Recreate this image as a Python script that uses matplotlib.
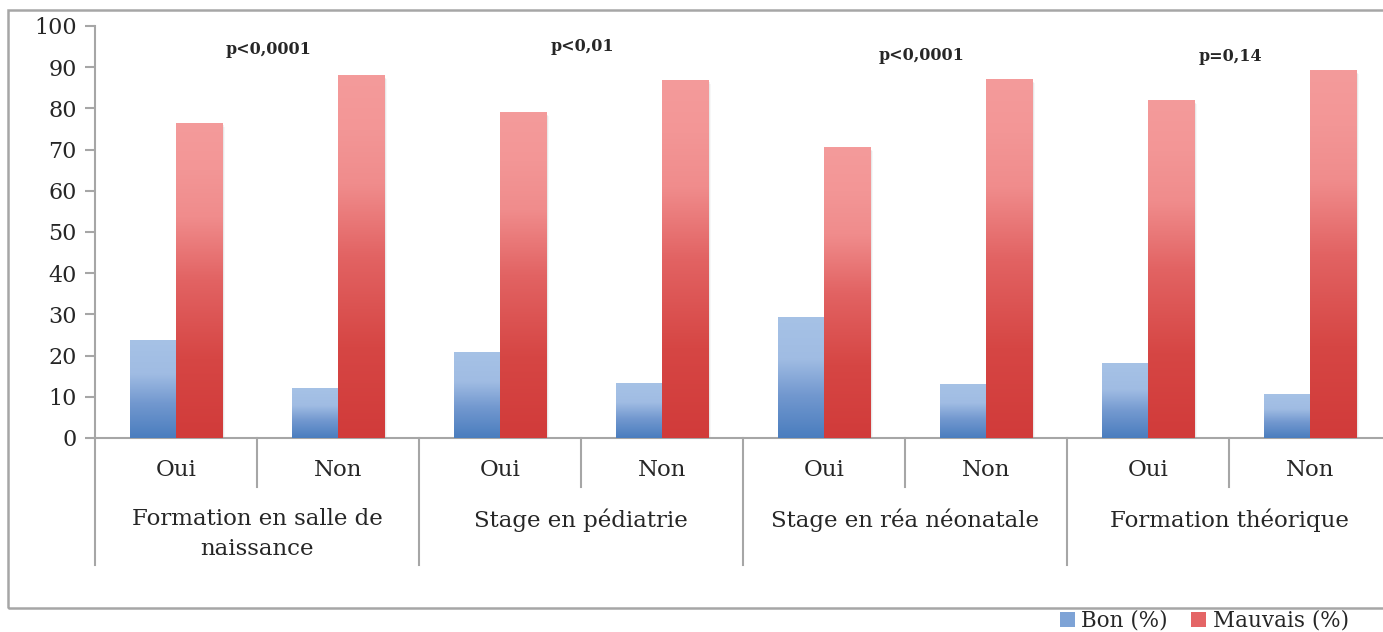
import matplotlib
matplotlib.use("Agg")
import matplotlib.pyplot as plt
import numpy as np
from matplotlib.colors import LinearSegmentedColormap
from matplotlib.patches import Rectangle, Patch
from matplotlib.lines import Line2D
import matplotlib.transforms as mtransforms

# ---- data ----
groups = ["Formation en salle de\nnaissance", "Stage en pédiatrie",
          "Stage en réa néonatale", "Formation théorique"]
sub_labels = ["Oui", "Non"]
bon = [23.8, 12.1, 20.9, 13.3, 29.4, 13.1, 18.2, 10.7]
mauvais = [76.5, 88.1, 79.1, 86.9, 70.6, 87.1, 82.0, 89.3]
p_values = ["p<0,0001", "p<0,01", "p<0,0001", "p=0,14"]
p_offsets = [0.07, 0.01, 0.10, 0.01]
p_heights = [94.3, 95.0, 92.8, 92.5]
series_names = ["Bon (%)", "Mauvais (%)"]

FONT = "DejaVu Serif"
TXT = "#262626"
AX_C = "#a6a6a6"

W, H = 1383, 632
fig = plt.figure(figsize=(W / 100, H / 100), dpi=100)

def fx(px):
    return px / W

def fy(py):
    return 1 - py / H

ax = fig.add_axes([fx(95), fy(438), fx(1391) - fx(95), fy(26) - fy(438)])
ax.set_xlim(-0.5, 7.5)
ax.set_ylim(0, 100)

blue_cmap = LinearSegmentedColormap.from_list(
    "b", [(0, "#4a7dbe"), (0.35, "#7298cf"), (0.65, "#a0bce3"), (1, "#a6c2e6")])
red_cmap = LinearSegmentedColormap.from_list(
    "r", [(0, "#d13b3a"), (0.25, "#d64644"), (0.5, "#e26363"), (0.7, "#f08c8c"),
          (0.85, "#f39696"), (1, "#f49b9b")])

x = np.arange(len(bon))
w = 0.287
grad = np.linspace(0, 1, 256).reshape(-1, 1)

def grad_bars(xs, vals, cmap):
    bars = ax.bar(xs, vals, width=w, align="edge", facecolor="none", edgecolor="none", zorder=3)
    for b in bars:
        x0, y0 = b.get_x(), b.get_y()
        bw, bh = b.get_width(), b.get_height()
        # soft shadow
        for k, a in enumerate([0.10, 0.06, 0.03]):
            sh = Rectangle((x0 + 0.006 * (k + 1), y0), bw, bh - 0.3 * (k + 1),
                           facecolor="#000000", alpha=a, edgecolor="none", zorder=2)
            ax.add_patch(sh)
        im = ax.imshow(grad, cmap=cmap, origin="lower", aspect="auto",
                       extent=[x0, x0 + bw, y0, y0 + bh], zorder=3)
        im.set_clip_path(b)
    return bars

grad_bars(x - w, bon, blue_cmap)
grad_bars(x, mauvais, red_cmap)
ax.set_xlim(-0.5, 7.5)
ax.set_ylim(0, 100)

# axes styling
for s in ["top", "right"]:
    ax.spines[s].set_visible(False)
ax.spines["left"].set_color(AX_C)
ax.spines["bottom"].set_color(AX_C)
ax.spines["left"].set_linewidth(1.5)
ax.spines["bottom"].set_linewidth(1.5)
ax.set_yticks(np.arange(0, 101, 10))
ax.tick_params(axis="y", colors=AX_C, labelcolor=TXT, length=7, width=1.5,
               labelsize=16, pad=6)
for lab in ax.get_yticklabels():
    lab.set_fontfamily(FONT)
ax.set_xticks([])

# multi-level x axis
trans = mtransforms.blended_transform_factory(ax.transData, ax.transAxes)
yp = lambda py: (438 - py) / 412.0
for i in range(len(bon) + 1):
    xb = i - 0.5
    low = 565 if i % 2 == 0 else 487
    ax.add_line(Line2D([xb, xb], [0, yp(low)], transform=trans, color=AX_C,
                       lw=1.5, clip_on=False))
for i in range(len(bon)):
    ax.text(i, yp(470), sub_labels[i % 2], transform=trans, ha="center", va="center",
            fontsize=16.5, fontfamily=FONT, color=TXT)
for g, name in enumerate(groups):
    ax.text(2 * g + 0.5, yp(508), name, transform=trans, ha="center", va="top",
            fontsize=16.5, fontfamily=FONT, color=TXT, linespacing=1.45)
    ax.text(2 * g + 0.5 + p_offsets[g], p_heights[g], p_values[g], ha="center",
            va="center", fontsize=11.5, fontweight="bold", fontfamily=FONT, color=TXT)

# outer chart border
border = Rectangle((fx(8), fy(608)), 1.2, fy(10) - fy(608), transform=fig.transFigure,
                   facecolor="none", edgecolor=AX_C, lw=1.8)
fig.add_artist(border)

# legend
handles = [Patch(facecolor="#7ea3d6", edgecolor="none"),
           Patch(facecolor="#e46566", edgecolor="none")]
leg = fig.legend(handles, series_names, loc="center right",
                 bbox_to_anchor=(fx(1349), fy(621)), ncol=2, frameon=False,
                 prop={"family": FONT, "size": 15.5}, handlelength=0.7, handleheight=0.7,
                 handletextpad=0.3, columnspacing=1.1, borderpad=0, borderaxespad=0)
for t in leg.get_texts():
    t.set_color(TXT)

fig.savefig("out.png", dpi=100)
